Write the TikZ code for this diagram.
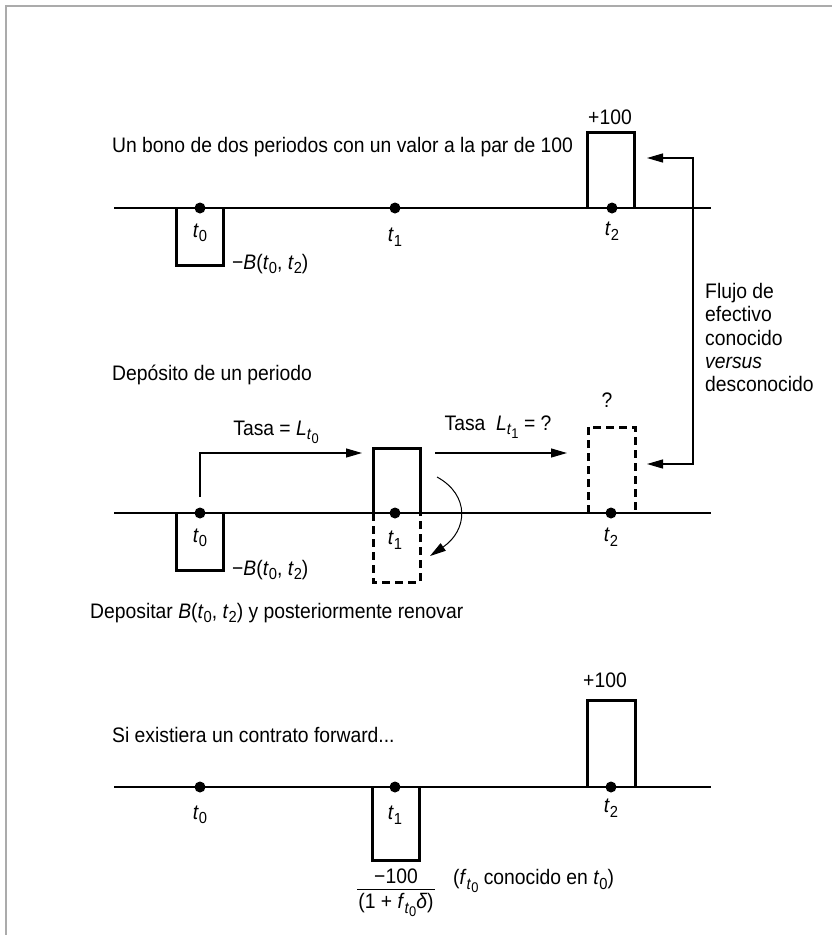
\documentclass[tikz,border=0pt]{standalone}
\usepackage{fontspec}
\setmainfont{Liberation Sans}[FakeStretch=0.92]
\usetikzlibrary{arrows.meta}
\newcommand{\sbA}[1]{\raisebox{-4.5pt}{\fontsize{16}{16}\selectfont #1}}
\newcommand{\sbB}[1]{\raisebox{-3.5pt}{\fontsize{14}{14}\selectfont #1}}
\newcommand{\vt}[1]{\textit{t}\sbA{#1}}
\newcommand{\vtt}[1]{\textit{t}\sbB{#1}}
\newcommand{\bigfont}{\fontsize{21}{23.3}\selectfont}
\begin{document}
\begin{tikzpicture}[x=1pt,y=-1pt,
  axis/.style={line width=1.5pt},
  cf/.style={line width=3pt},
  cfd/.style={line width=3pt, dash pattern=on 8pt off 5pt},
  dot/.style={circle, fill, inner sep=0pt, minimum size=11pt},
  arr/.style={line width=1.2pt, -{Triangle[length=16pt,width=9pt]}},
  arrb/.style={line width=1.2pt, {Triangle[length=16pt,width=9pt]}-{Triangle[length=16pt,width=9pt]}},
  txt/.style={font=\bigfont, inner sep=0pt}]
\useasboundingbox (0,0) rectangle (832,935);
\draw[black!33, line width=2.5pt] (6,935) -- (6,6) -- (832,6);

% ---------- top ----------
\node[txt, anchor=west] (title1) at (112,147) {Un bono de dos periodos con un valor a la par de 100};
\draw[axis] (114,208) -- (711,208);
\draw[cf] (176,208) -- (176,265) -- (223,265) -- (223,208);
\draw[cf] (587,208) -- (587,132) -- (634,132) -- (634,208);
\node[dot] (a0) at (200,208) {};
\node[dot] (a1) at (395,208) {};
\node[dot] (a2) at (612,208) {};
\node[txt] (la0) at (200,233) {\vt{0}};
\node[txt] (la1) at (395,237) {\vt{1}};
\node[txt] (la2) at (612,231) {\vt{2}};
\node[txt, anchor=west] (ba) at (232,264) {−\textit{B}(\vt{0}, \vt{2})};
\node[txt] (pa) at (610,117) {+100};

% ---------- right connector ----------
\coordinate (ktip) at (647,158);
\coordinate (rtop) at (693,158);
\coordinate (rbot) at (693,464);
\coordinate (utip) at (647,464);
\draw[arrb] (ktip) -- (rtop) -- (rbot) -- (utip);
\node[txt, anchor=north west, align=left] (flujo) at (705,283)
  {Flujo de\\efectivo\\conocido\\\textit{versus}\\desconocido};

% ---------- middle ----------
\node[txt, anchor=west] (title2) at (112,375) {Depósito de un periodo};
\draw[axis] (114,513) -- (711,513);
\draw[cf] (176,513) -- (176,570) -- (223,570) -- (223,513);
\draw[cf] (373,513) -- (373,448) -- (420,448) -- (420,513);
\draw[cfd] (373,513) -- (373,582) -- (420,582) -- (420,513);
\draw[cfd] (588,513) -- (588,427) -- (635,427) -- (635,513);
\node[dot] (b0) at (200,513) {};
\node[dot] (b1) at (395,513) {};
\node[dot] (b2) at (611,513) {};
\node[txt] (lb0) at (200,538) {\vt{0}};
\node[txt] (lb1) at (395,540) {\vt{1}};
\node[txt] (lb2) at (611,537) {\vt{2}};
\node[txt, anchor=west] (bb) at (232,570) {−\textit{B}(\vt{0}, \vt{2})};
\node[txt] (q) at (607,400) {?};
\coordinate (s0) at (200,497);
\coordinate (s1) at (200,453);
\coordinate (s2) at (362,453);
\draw[arr] (s0) -- (s1) -- (s2);
\node[txt] (tasa0) at (276,432) {Tasa = \textit{L}\sbA{\vtt{0}}};
\coordinate (r0) at (435,453);
\coordinate (r1) at (567,453);
\draw[arr] (r0) -- (r1);
\node[txt] (tasa1) at (498,427) {Tasa\ \ \textit{L}\sbA{\vtt{1}} = ?};
\coordinate (c0) at (437,477);
\coordinate (c1) at (430,556);
\draw[line width=1pt, -{Triangle[length=16pt,width=9pt]}] (c0) .. controls (470,495) and (468,530) .. (c1);
\node[txt, anchor=west] (dep) at (90,613) {Depositar \textit{B}(\vt{0}, \vt{2}) y posteriormente renovar};

% ---------- bottom ----------
\node[txt, anchor=west] (title3) at (112,735) {Si existiera un contrato forward...};
\draw[axis] (114,787) -- (711,787);
\draw[cf] (372,787) -- (372,860) -- (419,860) -- (419,787);
\draw[cf] (587,787) -- (587,700) -- (635,700) -- (635,787);
\node[dot] (c0d) at (200,787) {};
\node[dot] (c1d) at (395,787) {};
\node[dot] (c2d) at (611,787) {};
\node[txt] (lc0) at (200,815) {\vt{0}};
\node[txt] (lc1) at (395,815) {\vt{1}};
\node[txt] (lc2) at (611,808) {\vt{2}};
\node[txt] (pc) at (605,680) {+100};
\node[txt] (num) at (396,876) {−100};
\coordinate (fl) at (357,889);
\coordinate (fr) at (435,889);
\draw[line width=1pt] (fl) -- (fr);
\node[txt] (den) at (396,905) {(1 + \textit{f}\sbA{\vtt{0}}\textit{δ})};
\node[txt, anchor=west] (conoc) at (453,881) {(\textit{f}\sbA{\vtt{0}} conocido en \vt{0})};
\end{tikzpicture}
\end{document}
